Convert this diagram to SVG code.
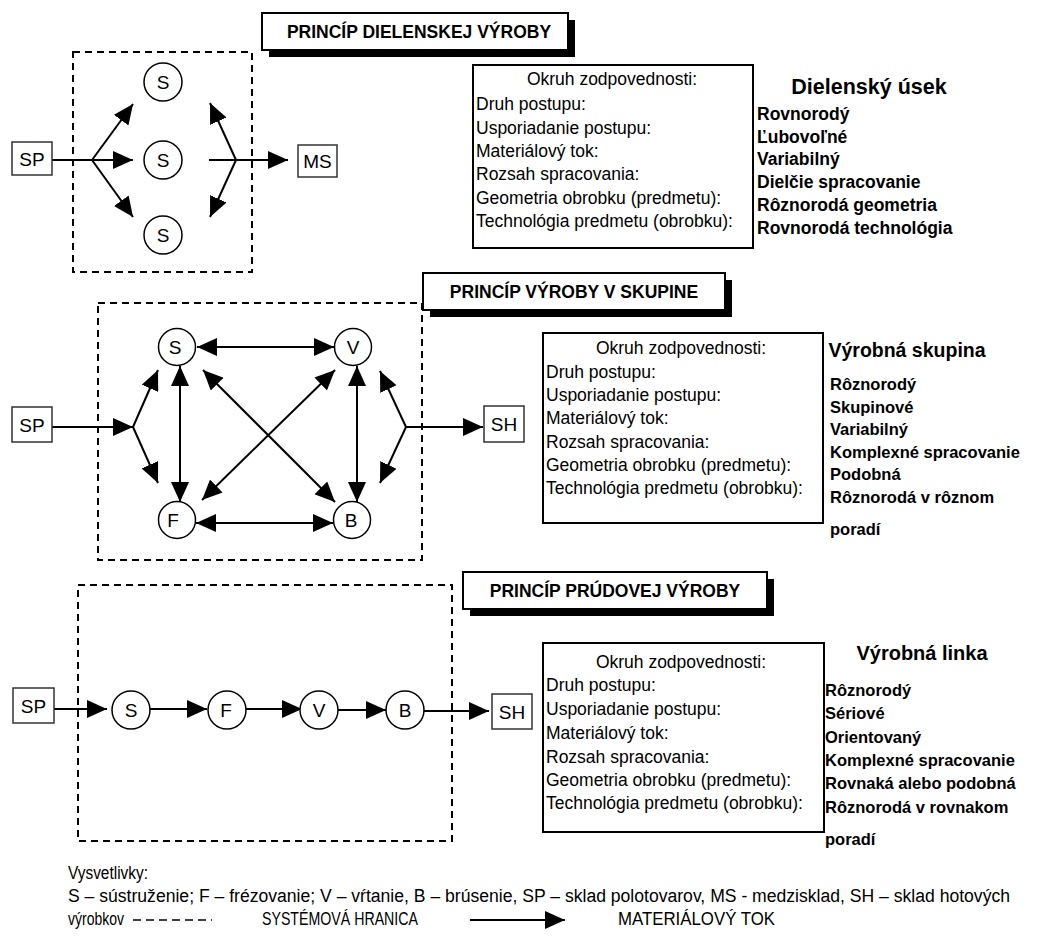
<svg xmlns="http://www.w3.org/2000/svg" width="1039" height="949" viewBox="0 0 1039 949">
  <defs>
    <marker id="ah" viewBox="0 0 20 18" refX="20" refY="9" markerWidth="20" markerHeight="18" markerUnits="userSpaceOnUse" orient="auto-start-reverse">
      <path d="M0,0 L20,9 L0,18 z" fill="#000"/>
    </marker>
  </defs>
  <style>
    .bound { fill: none; stroke: #000; stroke-width: 2; stroke-dasharray: 7 5; }
    .flow { fill: none; stroke: #000; stroke-width: 2; marker-end: url(#ah); }
    .flow2 { fill: none; stroke: #000; stroke-width: 2; marker-start: url(#ah); marker-end: url(#ah); }
    .plain { fill: none; stroke: #000; stroke-width: 2; }
    .st { fill: #fff; stroke: #000; stroke-width: 1.5; }
    .store { fill: #fff; stroke: #333; stroke-width: 1.5; }
    .lbl { font-family: "Liberation Sans", Arial, sans-serif; font-size: 19px; text-anchor: middle; fill: #000; }
    .ttl { font-family: "Liberation Sans", Arial, sans-serif; font-size: 17.5px; font-weight: bold; text-anchor: middle; fill: #000; }
    .info { fill: #fff; stroke: #000; stroke-width: 2; }
    .itxt { font-family: "Liberation Sans", Arial, sans-serif; font-size: 17.5px; fill: #000; }
    .head { font-family: "Liberation Sans", Arial, sans-serif; font-weight: bold; text-anchor: middle; fill: #000; }
    .val { font-family: "Liberation Sans", Arial, sans-serif; font-weight: bold; fill: #000; }
    .leg { font-family: "Liberation Sans Narrow", "Liberation Sans", Arial, sans-serif; font-size: 18px; fill: #000; }
  </style>

  <!-- system boundaries -->
  <g id="boundaries">
    <rect class="bound" x="73" y="52" width="179" height="220"/>
    <rect class="bound" x="98" y="303" width="324" height="257"/>
    <rect class="bound" x="78" y="585" width="374" height="256"/>
  </g>

  <!-- section titles -->
  <g id="title-dielenska">
    <rect x="269" y="20" width="306" height="37" fill="#000"/>
    <rect x="262" y="13" width="306" height="37" fill="#fff" stroke="#000" stroke-width="2"/>
    <text class="ttl" x="419" y="38">PRINCÍP DIELENSKEJ VÝROBY</text>
  </g>
  <g id="title-skupina">
    <rect x="430" y="280" width="302" height="37" fill="#000"/>
    <rect x="423" y="273" width="302" height="37" fill="#fff" stroke="#000" stroke-width="2"/>
    <text class="ttl" x="574" y="298">PRINCÍP VÝROBY V SKUPINE</text>
  </g>
  <g id="title-prudova">
    <rect x="470" y="579" width="304" height="37" fill="#000"/>
    <rect x="463" y="572" width="304" height="37" fill="#fff" stroke="#000" stroke-width="2"/>
    <text class="ttl" x="615" y="597">PRINCÍP PRÚDOVEJ VÝROBY</text>
  </g>

  <!-- connectors -->
  <g id="connectors">
    <!-- workshop layout -->
    <line class="plain" x1="52" y1="160" x2="92" y2="160"/>
    <line class="flow" x1="92" y1="160" x2="133" y2="160"/>
    <line class="flow" x1="92" y1="160" x2="133" y2="104"/>
    <line class="flow" x1="92" y1="160" x2="133" y2="217"/>
    <line class="flow" x1="209" y1="160" x2="288" y2="160"/>
    <line class="flow" x1="236" y1="160" x2="210" y2="103"/>
    <line class="flow" x1="236" y1="160" x2="210" y2="217"/>

    <!-- group layout -->
    <line class="flow" x1="52" y1="427" x2="133" y2="427"/>
    <line class="flow" x1="133" y1="427" x2="158" y2="370"/>
    <line class="flow" x1="133" y1="427" x2="158" y2="483"/>
    <line class="flow" x1="406" y1="427" x2="380" y2="371"/>
    <line class="flow" x1="406" y1="427" x2="380" y2="483"/>
    <line class="flow" x1="406" y1="427" x2="483" y2="427"/>
    <line class="flow2" x1="197" y1="347" x2="334" y2="347"/>
    <line class="flow2" x1="180" y1="366" x2="180" y2="502"/>
    <line class="flow2" x1="357" y1="366" x2="357" y2="502"/>
    <line class="flow2" x1="196" y1="523" x2="333" y2="523"/>
    <line class="flow2" x1="203" y1="370" x2="335" y2="502"/>
    <line class="flow2" x1="335" y1="370" x2="202" y2="500"/>

    <!-- flow line layout -->
    <line class="flow" x1="54" y1="709" x2="107" y2="709"/>
    <line class="flow" x1="150" y1="709" x2="207" y2="709"/>
    <line class="flow" x1="246" y1="709" x2="302" y2="709"/>
    <line class="flow" x1="338" y1="710" x2="386" y2="710"/>
    <line class="flow" x1="424" y1="711" x2="489" y2="711"/>
  </g>

  <!-- workshop nodes -->
  <g id="sp1"><rect class="store" x="12" y="142" width="40" height="33"/><text class="lbl" x="32" y="165.5">SP</text></g>
  <g id="s1a"><circle class="st" cx="163" cy="82" r="19"/><text class="lbl" x="163" y="89">S</text></g>
  <g id="s1b"><circle class="st" cx="163" cy="160" r="19"/><text class="lbl" x="163" y="167">S</text></g>
  <g id="s1c"><circle class="st" cx="163" cy="235" r="19"/><text class="lbl" x="163" y="242">S</text></g>
  <g id="ms1"><rect class="store" x="298" y="145" width="39" height="32"/><text class="lbl" x="317.5" y="168">MS</text></g>

  <!-- group nodes -->
  <g id="sp2"><rect class="store" x="12" y="407" width="40" height="35"/><text class="lbl" x="32" y="431.5">SP</text></g>
  <g id="s2"><circle class="st" cx="177" cy="347" r="18.5"/><text class="lbl" x="175" y="354">S</text></g>
  <g id="v2"><circle class="st" cx="353" cy="347" r="18.5"/><text class="lbl" x="353" y="354">V</text></g>
  <g id="f2"><circle class="st" cx="177" cy="520" r="18.5"/><text class="lbl" x="173" y="527">F</text></g>
  <g id="b2"><circle class="st" cx="352" cy="520" r="18.5"/><text class="lbl" x="351" y="527">B</text></g>
  <g id="sh2"><rect class="store" x="484" y="406" width="40" height="36"/><text class="lbl" x="504" y="431">SH</text></g>

  <!-- flow line nodes -->
  <g id="sp3"><rect class="store" x="13" y="688" width="41" height="35"/><text class="lbl" x="33.5" y="712.5">SP</text></g>
  <g id="s3"><circle class="st" cx="131" cy="710" r="19"/><text class="lbl" x="131" y="717">S</text></g>
  <g id="f3"><circle class="st" cx="227" cy="710" r="19"/><text class="lbl" x="226" y="717">F</text></g>
  <g id="v3"><circle class="st" cx="319" cy="710" r="19"/><text class="lbl" x="319" y="717">V</text></g>
  <g id="b3"><circle class="st" cx="405" cy="710" r="19"/><text class="lbl" x="405" y="717">B</text></g>
  <g id="sh3"><rect class="store" x="492" y="694" width="40" height="35"/><text class="lbl" x="512" y="718.5">SH</text></g>

  <!-- characteristics: workshop -->
  <g id="info1">
    <rect class="info" x="473" y="65" width="280" height="183"/>
    <text class="itxt" x="612" y="85" text-anchor="middle">Okruh zodpovednosti:</text>
    <text class="itxt" x="476" y="110">Druh postupu:</text>
    <text class="itxt" x="476" y="134">Usporiadanie postupu:</text>
    <text class="itxt" x="476" y="157">Materiálový tok:</text>
    <text class="itxt" x="476" y="180">Rozsah spracovania:</text>
    <text class="itxt" x="476" y="204">Geometria obrobku (predmetu):</text>
    <text class="itxt" x="476" y="227">Technológia predmetu (obrobku):</text>
  </g>
  <g id="vals1">
    <text class="head" x="869" y="94" font-size="21.5">Dielenský úsek</text>
    <text class="val" x="757" y="120" font-size="17.5">Rovnorodý</text>
    <text class="val" x="757" y="143" font-size="17.5">Ľubovoľné</text>
    <text class="val" x="757" y="165" font-size="17.5">Variabilný</text>
    <text class="val" x="757" y="188" font-size="17.5">Dielčie spracovanie</text>
    <text class="val" x="757" y="211" font-size="17.5">Rôznorodá geometria</text>
    <text class="val" x="757" y="234" font-size="17.5">Rovnorodá technológia</text>
  </g>

  <!-- characteristics: group -->
  <g id="info2">
    <rect class="info" x="543" y="333" width="280" height="190"/>
    <text class="itxt" x="681" y="354" text-anchor="middle">Okruh zodpovednosti:</text>
    <text class="itxt" x="546" y="378">Druh postupu:</text>
    <text class="itxt" x="546" y="401">Usporiadanie postupu:</text>
    <text class="itxt" x="546" y="424">Materiálový tok:</text>
    <text class="itxt" x="546" y="448">Rozsah spracovania:</text>
    <text class="itxt" x="546" y="471">Geometria obrobku (predmetu):</text>
    <text class="itxt" x="546" y="494">Technológia predmetu (obrobku):</text>
  </g>
  <g id="vals2">
    <text class="head" x="907" y="357" font-size="19.5">Výrobná skupina</text>
    <text class="val" x="830" y="390" font-size="16.5">Rôznorodý</text>
    <text class="val" x="830" y="413" font-size="16.5">Skupinové</text>
    <text class="val" x="830" y="435" font-size="16.5">Variabilný</text>
    <text class="val" x="830" y="458" font-size="16.5">Komplexné spracovanie</text>
    <text class="val" x="830" y="480" font-size="16.5">Podobná</text>
    <text class="val" x="830" y="503" font-size="16.5">Rôznorodá v rôznom</text>
    <text class="val" x="830" y="535" font-size="16.5">poradí</text>
  </g>

  <!-- characteristics: flow line -->
  <g id="info3">
    <rect class="info" x="543" y="643" width="281" height="189"/>
    <text class="itxt" x="681" y="668" text-anchor="middle">Okruh zodpovednosti:</text>
    <text class="itxt" x="546" y="691">Druh postupu:</text>
    <text class="itxt" x="546" y="715">Usporiadanie postupu:</text>
    <text class="itxt" x="546" y="739">Materiálový tok:</text>
    <text class="itxt" x="546" y="763">Rozsah spracovania:</text>
    <text class="itxt" x="546" y="786">Geometria obrobku (predmetu):</text>
    <text class="itxt" x="546" y="809">Technológia predmetu (obrobku):</text>
  </g>
  <g id="vals3">
    <text class="head" x="922" y="660" font-size="20">Výrobná linka</text>
    <text class="val" x="825" y="696" font-size="16.5">Rôznorodý</text>
    <text class="val" x="825" y="719" font-size="16.5">Sériové</text>
    <text class="val" x="825" y="743" font-size="16.5">Orientovaný</text>
    <text class="val" x="825" y="766" font-size="16.5">Komplexné spracovanie</text>
    <text class="val" x="825" y="789" font-size="16.5">Rovnaká alebo podobná</text>
    <text class="val" x="825" y="813" font-size="16.5">Rôznorodá v rovnakom</text>
    <text class="val" x="825" y="845" font-size="16.5">poradí</text>
  </g>

  <!-- legend (condensed lettering) -->
  <g id="legend">
    <text class="leg" x="68" y="879" textLength="80" lengthAdjust="spacingAndGlyphs">Vysvetlivky:</text>
    <text class="leg" x="68" y="902" textLength="942" lengthAdjust="spacingAndGlyphs">S – sústruženie; F – frézovanie; V – vŕtanie, B – brúsenie, SP – sklad polotovarov, MS - medzisklad, SH – sklad hotových</text>
    <text class="leg" x="68" y="925" textLength="56" lengthAdjust="spacingAndGlyphs">výrobkov</text>
    <line x1="133" y1="920" x2="212" y2="920" fill="none" stroke="#000" stroke-width="1.5" stroke-dasharray="8 5"/>
    <text class="leg" x="262" y="925" textLength="156" lengthAdjust="spacingAndGlyphs">SYSTÉMOVÁ HRANICA</text>
    <line class="flow" x1="470" y1="920" x2="565" y2="920"/>
    <text class="leg" x="618" y="925" textLength="157" lengthAdjust="spacingAndGlyphs">MATERIÁLOVÝ TOK</text>
  </g>
</svg>
